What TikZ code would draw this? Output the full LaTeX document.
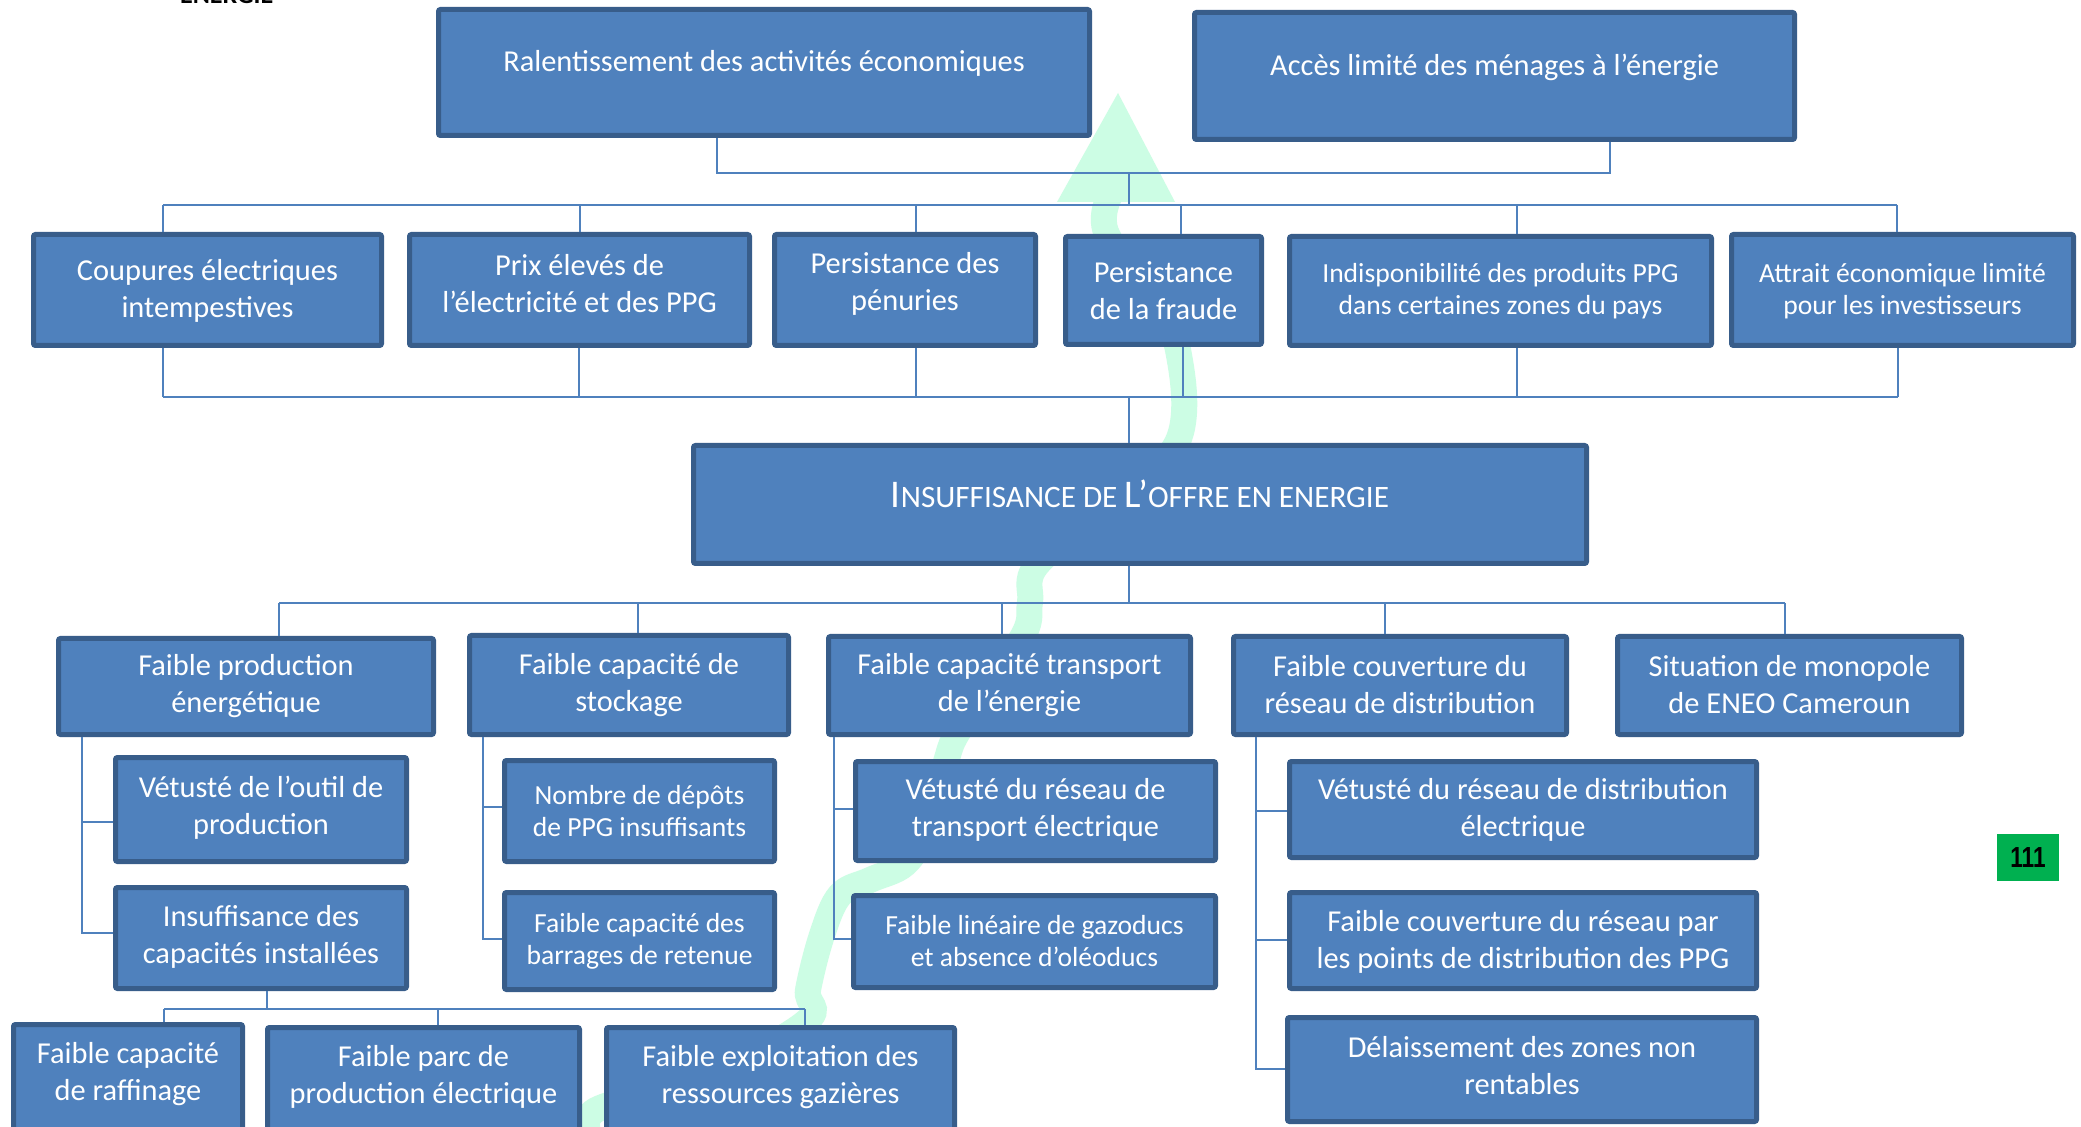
\documentclass[tikz,border=0pt]{standalone}
\usepackage{fontspec}
\setmainfont{Carlito}
\newfontfamily\numfont{Liberation Sans}
\usepackage{graphicx}
\definecolor{boxfill}{RGB}{79,129,189}
\definecolor{boxedge}{RGB}{56,93,138}
\definecolor{linec}{RGB}{79,129,189}
\definecolor{mint}{RGB}{204,253,228}
\definecolor{pagegreen}{RGB}{0,176,80}
% name, L, T, R, B, text-y, style, text
\newcommand\mybox[8]{%
  \node[box, minimum width={(#4-#2-5)*0.5pt}, minimum height={(#5-#3-5)*0.5pt}] (#1) at ({(#2+#4)/2},{(#3+#5)/2}) {};
  \node[lbl,#7] (#1-t) at ({(#2+#4)/2},#6) {#8};}
\begin{document}
\begin{tikzpicture}[x=0.5pt,y=-0.5pt,
  box/.style={draw=boxedge, fill=boxfill, line width=2.5pt, rounded corners=1pt, inner sep=0pt},
  lbl/.style={text=white, align=center, inner sep=0pt},
  big/.style={font=\fontsize{15.2}{18.5}\selectfont},
  sml/.style={font=\fontsize{13.8}{16}\selectfont},
  conn/.style={draw=linec, line width=1pt},
]
\useasboundingbox (0,0) rectangle (2081,1127);
\clip (0,0) rectangle (2081,1127);
\fill[white] (0,0) rectangle (2081,1127);

% partially visible title
\node[anchor=base west, font=\bfseries\fontsize{13}{13}\selectfont] (ttl) at (173,3.5) {ENERGIE};

% green arrow
\fill[mint] (1118,93) -- (1175,202) -- (1057,202) -- cycle;
\draw[mint, line width=13pt] plot[smooth, tension=0.6] coordinates {(1110,195) (1106,232) (1150,300) (1178,350) (1177,443) (1100,510) (1036,566) (1030,602) (1024,634) (980,700) (955,737) (945,765) (925,830) (905,864) (870,880) (840,895) (822,935) (808,990) (806,1022) (700,1080) (596,1110) (592,1140)};

% connector junctions
\coordinate (j1) at (717,173); \coordinate (j2) at (1610,173);
\coordinate (j0) at (1129,173); \coordinate (k0) at (1129,205);
\coordinate (k1) at (163,205); \coordinate (k2) at (1897,205);
\coordinate (m1) at (163,397); \coordinate (m2) at (1898,397); \coordinate (m0) at (1129,397);
\coordinate (n0) at (1129,603); \coordinate (n1) at (279,603); \coordinate (n2) at (1785,603);

% boxes
\mybox{ral}{436}{7}{1092}{138}{63}{big}{Ralentissement des activités économiques}
\mybox{acc}{1192}{10}{1797}{142}{67}{big}{Accès limité des ménages à l’énergie}
\mybox{coup}{31}{232}{384}{348}{291}{big}{Coupures électriques\\intempestives}
\mybox{prix}{407}{232}{752}{348}{284}{big}{Prix élevés de\\l’électricité et des PPG}
\mybox{pen}{772}{232}{1038}{348}{284}{big}{Persistance des\\pénuries}
\mybox{fra}{1063}{234}{1264}{347}{291}{big}{Persistance\\de la fraude}
\mybox{ind}{1287}{234}{1714}{348}{291}{sml}{Indisponibilité des produits PPG\\dans certaines zones du pays}
\mybox{att}{1729}{232}{2076}{348}{291}{sml}{Attrait économique limité\\pour les investisseurs}
\mybox{ins}{691}{443}{1589}{566}{494}{font=\fontsize{19.6}{21}\selectfont}{I{\fontsize{15.6}{18}\selectfont NSUFFISANCE DE }L’{\fontsize{15.6}{18}\selectfont OFFRE EN ENERGIE}}
\mybox{fp}{56}{636}{436}{737}{686}{big}{Faible production\\énergétique}
\mybox{fcs}{467}{633}{791}{737}{685}{big}{Faible capacité de\\stockage}
\mybox{fct}{826}{634}{1193}{737}{685}{big}{Faible capacité transport\\de l’énergie}
\mybox{fcr}{1231}{634}{1569}{737}{685}{big}{Faible couverture du\\réseau de distribution}
\mybox{mon}{1615}{634}{1964}{737}{685}{big}{Situation de monopole\\de ENEO Cameroun}
\mybox{vo}{113}{755}{409}{864}{808}{big}{Vétusté de l’outil de\\production}
\mybox{ic}{113}{885}{409}{991}{937}{big}{Insuffisance des\\capacités installées}
\mybox{nd}{502}{758}{777}{864}{811}{sml}{Nombre de dépôts\\de PPG insuffisants}
\mybox{fb}{502}{890}{777}{992}{941}{sml}{Faible capacité des\\barrages de retenue}
\mybox{vt}{853}{759}{1218}{863}{810}{big}{Vétusté du réseau de\\transport électrique}
\mybox{fl}{851}{893}{1218}{990}{941}{sml}{Faible linéaire de gazoducs\\et absence d’oléoducs}
\mybox{vd}{1287}{759}{1759}{860}{810}{big}{Vétusté du réseau de distribution\\électrique}
\mybox{fcp}{1287}{890}{1759}{991}{942}{big}{Faible couverture du réseau par\\les points de distribution des PPG}
\mybox{del}{1285}{1015}{1759}{1124}{1066}{big}{Délaissement des zones non\\rentables}
\mybox{raf}{11}{1022}{245}{1132}{1074}{big}{Faible capacité\\de raffinage}
\mybox{fpe}{265}{1025}{582}{1132}{1077}{big}{Faible parc de\\production électrique}
\mybox{fex}{604}{1025}{957}{1132}{1077}{big}{Faible exploitation des\\ressources gazières}

% top connectors
\draw[conn] (j1 |- ral.south) -- (j1) -- (j2) -- (j2 |- acc.south);
\draw[conn] (j0) -- (k0);
\draw[conn] (k1) -- (k2);
\foreach \n/\x in {coup/163, prix/580, pen/916, fra/1181, ind/1517, att/1897}{
  \coordinate (tmp) at (\x,205);
  \draw[conn] (tmp) -- (tmp |- \n.north);}
\foreach \n/\x in {coup/163, prix/579, pen/916, fra/1183, ind/1517, att/1898}{
  \coordinate (tmp) at (\x,397);
  \draw[conn] (tmp |- \n.south) -- (tmp);}
\draw[conn] (m1) -- (m2);
\draw[conn] (m0) -- (m0 |- ins.north);
\draw[conn] (n0 |- ins.south) -- (n0);
\draw[conn] (n1) -- (n2);
\foreach \n/\x in {fp/279, fcs/638, fct/1002, fcr/1385, mon/1785}{
  \coordinate (tmp) at (\x,603);
  \draw[conn] (tmp) -- (tmp |- \n.north);}

% sub trees
\coordinate (a1) at (82,822); \coordinate (a2) at (82,933);
\draw[conn] (a1 |- fp.south) -- (a2) -- (a2 -| ic.west);
\draw[conn] (a1) -- (a1 -| vo.west);
\coordinate (b1) at (483,807); \coordinate (b2) at (483,939);
\draw[conn] (b1 |- fcs.south) -- (b2) -- (b2 -| fb.west);
\draw[conn] (b1) -- (b1 -| nd.west);
\coordinate (c1) at (834,809); \coordinate (c2) at (834,939);
\draw[conn] (c1 |- fct.south) -- (c2) -- (c2 -| fl.west);
\draw[conn] (c1) -- (c1 -| vt.west);
\coordinate (d1) at (1256,811); \coordinate (d2) at (1256,940); \coordinate (d3) at (1256,1069);
\draw[conn] (d1 |- fcr.south) -- (d3) -- (d3 -| del.west);
\draw[conn] (d1) -- (d1 -| vd.west);
\draw[conn] (d2) -- (d2 -| fcp.west);
\coordinate (e0) at (267,1009); \coordinate (e1) at (164,1009); \coordinate (e2) at (805,1009);
\draw[conn] (e0 |- ic.south) -- (e0);
\draw[conn] (e1) -- (e2);
\foreach \n/\x in {raf/164, fpe/438, fex/805}{
  \coordinate (tmp) at (\x,1009);
  \draw[conn] (tmp) -- (tmp |- \n.north);}

% page number
\node[fill=pagegreen, minimum width=31pt, minimum height=23.5pt, inner sep=0pt,
  font=\numfont\bfseries\fontsize{14.5}{14.5}\selectfont] (pg) at (2028,857.5) {\scalebox{0.78}[1]{111}};
\end{tikzpicture}
\end{document}
